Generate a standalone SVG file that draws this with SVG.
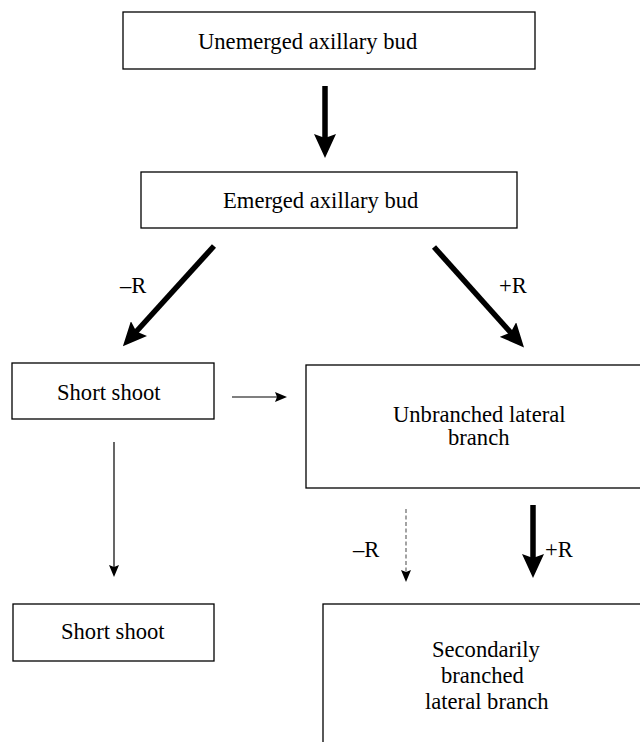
<svg xmlns="http://www.w3.org/2000/svg" width="640" height="742" viewBox="0 0 640 742">
<style>
.box{fill:#fff;stroke:#000;stroke-width:1.3}
.t{font-family:"Liberation Serif","Times New Roman",serif;font-size:22.6px;fill:#000}
.thick{stroke:#000;stroke-width:5.5;fill:none}
.thin{stroke:#000;stroke-width:1.2;fill:none}
.dash{stroke:#666;stroke-width:1.2;stroke-dasharray:4 2.5;fill:none}
</style>
<defs>
<marker id="hBig" markerUnits="userSpaceOnUse" viewBox="0 0 24 22" markerWidth="24" markerHeight="22" refX="6" refY="11" orient="auto">
<path d="M0,0 L24,11 L0,22 L4,11 Z" fill="#000"/>
</marker>
<marker id="hSmall" markerUnits="userSpaceOnUse" viewBox="0 0 12 10" markerWidth="12" markerHeight="10" refX="3" refY="5" orient="auto">
<path d="M0,0 L12,5 L0,10 L2,5 Z" fill="#000"/>
</marker>
</defs>
<g id="connectors">
<line class="thick" x1="325" y1="86" x2="325" y2="140" marker-end="url(#hBig)"/>
<line class="thick" x1="214" y1="246" x2="135" y2="333" marker-end="url(#hBig)"/>
<line class="thick" x1="434" y1="247" x2="512" y2="334" marker-end="url(#hBig)"/>
<line class="thin" x1="232" y1="397" x2="278" y2="397" marker-end="url(#hSmall)"/>
<line class="thin" x1="114" y1="442" x2="114" y2="568" marker-end="url(#hSmall)"/>
<line class="dash" x1="406" y1="509" x2="406" y2="573" marker-end="url(#hSmall)"/>
<line class="thick" x1="533" y1="505" x2="533" y2="560" marker-end="url(#hBig)"/>
<text class="t" x="120" y="293">–R</text>
<text class="t" x="499" y="293">+R</text>
<text class="t" x="353" y="557">–R</text>
<text class="t" x="545" y="557">+R</text>
</g>
<g id="unemerged">
<rect class="box" x="123" y="12" width="412" height="57"/>
<text class="t" x="198" y="49">Unemerged axillary bud</text>
</g>
<g id="emerged">
<rect class="box" x="141" y="172" width="376" height="56"/>
<text class="t" x="223" y="208">Emerged axillary bud</text>
</g>
<g id="short1">
<rect class="box" x="12" y="363" width="202" height="56"/>
<text class="t" x="57" y="400">Short shoot</text>
</g>
<g id="unbranched">
<rect class="box" x="306" y="365" width="340" height="123"/>
<text class="t" x="393" y="422">Unbranched lateral</text>
<text class="t" x="448" y="445">branch</text>
</g>
<g id="short2">
<rect class="box" x="13" y="604" width="201" height="57"/>
<text class="t" x="61" y="639">Short shoot</text>
</g>
<g id="secondary">
<rect class="box" x="323" y="604" width="330" height="150"/>
<text class="t" x="432" y="657">Secondarily</text>
<text class="t" x="441" y="683">branched</text>
<text class="t" x="425" y="709">lateral branch</text>
</g>
</svg>
